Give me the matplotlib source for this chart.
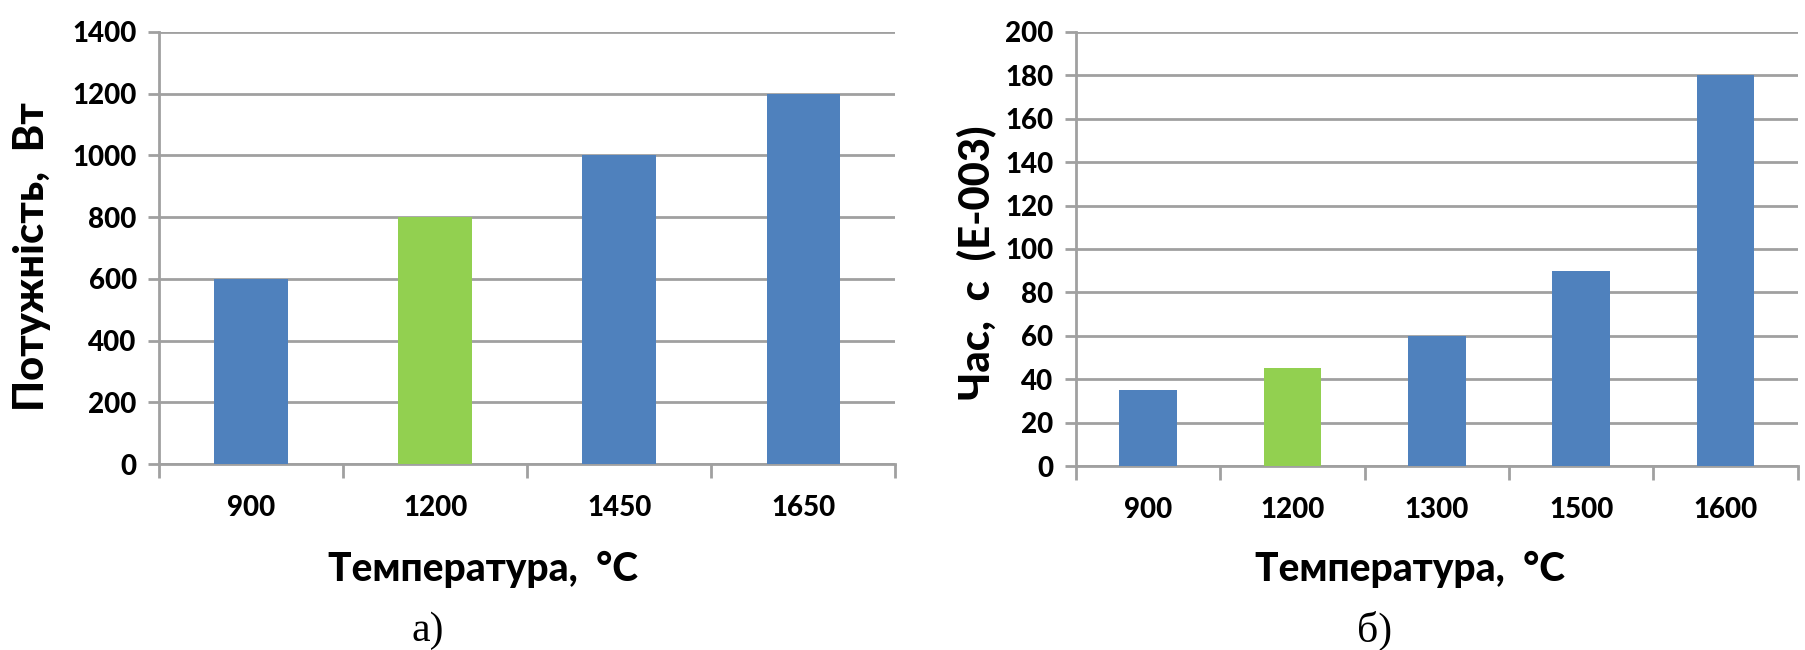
import matplotlib
matplotlib.use("Agg")
import matplotlib.pyplot as plt
from matplotlib.ticker import FixedLocator, MultipleLocator

# panel a) power vs temperature
temps_a = ["900", "1200", "1450", "1650"]
power_w = [600, 800, 1000, 1200]
colors_a = ["#4F81BD", "#92D050", "#4F81BD", "#4F81BD"]

# panel б) time vs temperature
temps_b = ["900", "1200", "1300", "1500", "1600"]
time_ms = [35, 45, 60, 90, 180]
colors_b = ["#4F81BD", "#92D050", "#4F81BD", "#4F81BD", "#4F81BD"]

GRID = "#A0A0A0"
FONT = "Lato"
TICK_KW = dict(fontfamily=FONT, fontweight="black", fontsize=20)
LABEL_KW = dict(fontfamily=FONT, fontweight="black", fontsize=28)
YLABEL_KW = dict(fontfamily=FONT, fontweight="black", fontsize=30)

fig = plt.figure(figsize=(18.05, 6.5), dpi=100)


def style_axes(ax, labels, values, colors, ymax, ystep, xlabel_xy):
    x = range(len(labels))
    ax.bar(x, values, width=0.4, color=colors, zorder=3)
    ax.set_xlim(-0.5, len(labels) - 0.5)
    ax.set_ylim(0, ymax)
    ax.yaxis.set_major_locator(MultipleLocator(ystep))
    ax.grid(axis="y", color=GRID, linewidth=2, zorder=0)
    ax.set_axisbelow(True)
    for side in ("top", "right"):
        ax.spines[side].set_visible(False)
    for side in ("left", "bottom"):
        ax.spines[side].set_color(GRID)
        ax.spines[side].set_linewidth(2)
    ax.set_xticks(list(x))
    ax.set_xticklabels(labels, **TICK_KW)
    ax.xaxis.set_minor_locator(FixedLocator([i - 0.5 for i in range(len(labels) + 1)]))
    ax.tick_params(axis="x", which="major", length=0, pad=22)
    ax.tick_params(axis="x", which="minor", length=10, width=2, color=GRID)
    ax.tick_params(axis="y", length=8, width=2, color=GRID, pad=8)
    for t in ax.get_yticklabels():
        t.set(**TICK_KW)
    ax.set_xlabel("Температура,  °С", **LABEL_KW)
    # the caption sits left of the plot centre in the original
    ax.xaxis.set_label_coords(*xlabel_xy, transform=ax.transAxes)
    ax.xaxis.label.set_verticalalignment("center")


ax1 = fig.add_axes([0.0881, 0.286, 0.408, 0.665])
style_axes(ax1, temps_a, power_w, colors_a, 1400, 200,
           ((483 - 159) / 737, (464 - 569) / 432))
fig.text(0.018, 0.606, "Потужність,  Вт", rotation=90, ha="center", va="center",
         **YLABEL_KW)

ax2 = fig.add_axes([0.596, 0.283, 0.4, 0.668])
style_axes(ax2, temps_b, time_ms, colors_b, 200, 20,
           ((1410 - 1076) / 722, (466 - 569) / 434))
fig.text(0.541, 0.595, "Час,  с  (E-003)", rotation=90, ha="center", va="center",
         **YLABEL_KW)

fig.text(428 / 1805, 1 - 631 / 650, "а)", ha="center", va="center",
         fontfamily="Liberation Serif", fontsize=30)
fig.text(1375 / 1805, 1 - 631 / 650, "б)", ha="center", va="center",
         fontfamily="Liberation Serif", fontsize=30)

fig.savefig("out.png", dpi=100)
